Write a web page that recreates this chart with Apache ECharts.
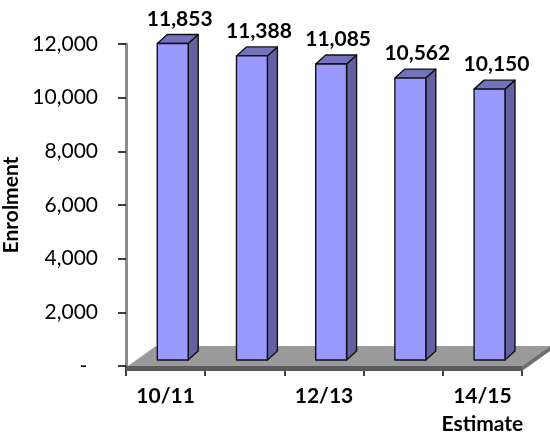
<!DOCTYPE html>
<html>
<head>
<meta charset="utf-8">
<script src="https://cdn.jsdelivr.net/npm/echarts@6/dist/echarts.min.js"></script>
<style>
  html, body { margin: 0; padding: 0; background: #fff; }
  #chart { width: 550px; height: 436px; }
</style>
</head>
<body>
<div id="chart"></div>
<script>
// School years and enrolment counts
const categories = ['10/11', '11/12', '12/13', '13/14', '14/15\nEstimate'];
const enrolment = [11853, 11388, 11085, 10562, 10150];
const yMin = 0;
const yMax = 12000;
const yStep = 2000;

const FONT = 'Lato, "Open Sans", sans-serif';

// Pseudo-3D column: front face, right side, top face, plus its value label
function renderColumn(params, api) {
  const i = api.value(0);
  const v = api.value(1);
  const top = api.coord([i, v]);
  const base = api.coord([i, 0]);
  const band = api.size([1, 0])[0];
  const w = band * 0.39;
  const cx = top[0] + band * 0.09;
  const x0 = cx - w / 2, x1 = cx + w / 2;
  const yt = top[1] - 4.5, yb = base[1] - 6;
  const dx = 10, dy = -9;
  const edge = { stroke: '#111', lineWidth: 1.4, lineJoin: 'round' };
  return {
    type: 'group',
    children: [
      { type: 'polygon', shape: { points: [[x1, yb], [x1 + dx, yb + dy], [x1 + dx, yt + dy], [x1, yt]] },
        style: Object.assign({ fill: '#6262a3' }, edge) },
      { type: 'polygon', shape: { points: [[x0, yt], [x0 + dx, yt + dy], [x1 + dx, yt + dy], [x1, yt]] },
        style: Object.assign({ fill: '#7272bd' }, edge) },
      { type: 'rect', shape: { x: x0, y: yt, width: w, height: yb - yt },
        style: Object.assign({ fill: '#9999ff' }, edge) },
      { type: 'text', style: { text: v.toLocaleString('en-US'), x: cx + 7, y: yt + dy - 5,
        align: 'center', verticalAlign: 'bottom', font: 'bold 21px ' + FONT, fill: '#000' } }
    ]
  };
}

// Grey floor slab the columns stand on
function renderFloor(params, api) {
  const band = api.size([1, 0])[0];
  const first = api.coord([0, 0]);
  const last = api.coord([categories.length - 1, 0]);
  const xl = first[0] - band / 2 + 2, xr = last[0] + band / 2;
  const y = first[1];
  const dx = 28, dy = -20, t = 5;
  return {
    type: 'group',
    children: [
      { type: 'polygon', shape: { points: [[xl, y], [xr, y], [xr + dx, y + dy], [xl + dx, y + dy]] },
        style: { fill: '#9a9a9a' } },
      { type: 'rect', shape: { x: xl - 2, y: y, width: xr - xl + 2, height: t },
        style: { fill: '#5a5a5a' } },
      { type: 'polygon', shape: { points: [[xr, y], [xr + dx, y + dy], [xr + dx, y + dy + t], [xr, y + t]] },
        style: { fill: '#6e6e6e' } }
    ]
  };
}

const chart = echarts.init(document.getElementById('chart'), null, { renderer: 'canvas' });
chart.setOption({
  animation: false,
  backgroundColor: '#fff',
  grid: { left: 126, right: 28, top: 44, bottom: 70, containLabel: false, outerBoundsMode: 'none' },
  xAxis: {
    type: 'category',
    data: categories,
    boundaryGap: true,
    axisLine: { show: false },
    axisTick: { show: true, interval: 0, length: 10, lineStyle: { color: '#000', width: 1.5 } },
    axisLabel: {
      interval: 1, margin: 16, fontFamily: FONT, fontWeight: 'bold', fontSize: 21,
      lineHeight: 28, color: '#000'
    },
    splitLine: { show: false }
  },
  yAxis: {
    type: 'value',
    min: yMin, max: yMax, interval: yStep,
    name: 'Enrolment',
    nameLocation: 'middle',
    nameRotate: 90,
    nameGap: 100,
    nameTextStyle: { fontFamily: FONT, fontWeight: 'bold', fontSize: 21, color: '#000' },
    axisLine: { show: true, lineStyle: { color: '#8c8c8c', width: 3 } },
    axisTick: { show: true, length: 8, lineStyle: { color: '#000', width: 1.5 } },
    axisLabel: {
      margin: 28, fontFamily: FONT, fontSize: 21, color: '#000',
      formatter: v => (v === 0 ? '-  ' : v.toLocaleString('en-US'))
    },
    splitLine: { show: false }
  },
  series: [
    {
      type: 'custom', name: 'floor', silent: true, z: 1,
      renderItem: renderFloor,
      data: [[0, 0]],
      encode: { x: 0, y: 1 }
    },
    {
      type: 'custom', name: 'Enrolment', z: 2,
      renderItem: renderColumn,
      data: enrolment.map((v, i) => [i, v]),
      encode: { x: 0, y: 1 }
    }
  ]
});
</script>
</body>
</html>
